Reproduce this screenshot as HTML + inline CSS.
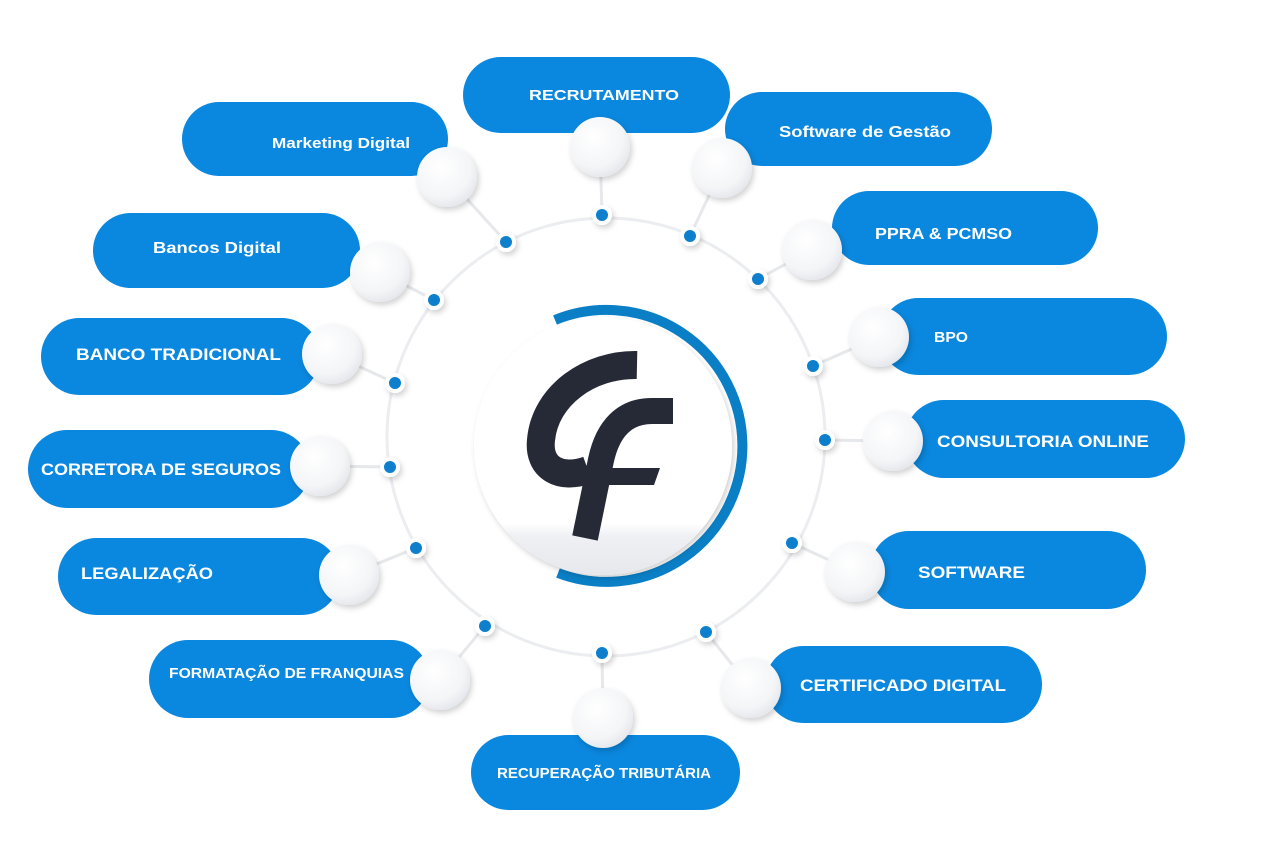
<!DOCTYPE html>
<html><head><meta charset="utf-8"><style>
html,body{margin:0;padding:0;background:#fff;}
svg{display:block}
text{font-family:"Liberation Sans",sans-serif;font-weight:bold;fill:#fff;}
</style></head><body>
<svg width="1267" height="854" viewBox="0 0 1267 854" xmlns="http://www.w3.org/2000/svg">
<defs>
<radialGradient id="ball" cx="0.4" cy="0.35" r="0.7">
<stop offset="0" stop-color="#ffffff"/><stop offset="0.7" stop-color="#f4f5f7"/><stop offset="1" stop-color="#e2e5ea"/>
</radialGradient>
<linearGradient id="ctr" x1="0" y1="0" x2="0" y2="1">
<stop offset="0.8" stop-color="#ffffff"/><stop offset="0.85" stop-color="#eef0f3"/><stop offset="1" stop-color="#e6e8ec"/>
</linearGradient>
<filter id="sh" x="-30%" y="-30%" width="160%" height="160%"><feDropShadow dx="2" dy="3" stdDeviation="3" flood-color="#000" flood-opacity="0.18"/></filter>
</defs>
<circle cx="606" cy="437" r="219" fill="none" stroke="#ebedf0" stroke-width="3"/>
<g stroke="#e6e8eb" stroke-width="3">
<line x1="602" y1="215" x2="600" y2="147"/>
<line x1="506" y1="242" x2="447" y2="177"/>
<line x1="690" y1="236" x2="722" y2="168"/>
<line x1="434" y1="300" x2="380" y2="272"/>
<line x1="758" y1="279" x2="812" y2="250"/>
<line x1="395" y1="383" x2="332" y2="354"/>
<line x1="813" y1="366" x2="879" y2="337"/>
<line x1="390" y1="467" x2="320" y2="466"/>
<line x1="825" y1="440" x2="893" y2="441"/>
<line x1="416" y1="548" x2="349" y2="575"/>
<line x1="792" y1="543" x2="855" y2="572"/>
<line x1="485" y1="626" x2="440" y2="680"/>
<line x1="706" y1="632" x2="751" y2="688"/>
<line x1="602" y1="653" x2="603" y2="718"/>
</g>
<g fill="#0a87de">
<rect x="463" y="57" width="267" height="76" rx="38"/>
<rect x="182" y="102" width="266" height="74" rx="37"/>
<rect x="725" y="92" width="267" height="74" rx="37"/>
<rect x="93" y="213" width="267" height="75" rx="37.5"/>
<rect x="832" y="191" width="266" height="74" rx="37"/>
<rect x="41" y="318" width="279" height="77" rx="38.5"/>
<rect x="880" y="298" width="287" height="77" rx="38.5"/>
<rect x="28" y="430" width="282" height="78" rx="39"/>
<rect x="905" y="400" width="280" height="78" rx="39"/>
<rect x="58" y="538" width="282" height="77" rx="38.5"/>
<rect x="870" y="531" width="276" height="78" rx="39"/>
<rect x="149" y="640" width="281" height="78" rx="39"/>
<rect x="765" y="646" width="277" height="77" rx="38.5"/>
<rect x="471" y="735" width="269" height="75" rx="37.5"/>
</g>
<g fill="url(#ball)" filter="url(#sh)">
<circle cx="600" cy="147" r="30"/><circle cx="447" cy="177" r="30"/><circle cx="722" cy="168" r="30"/>
<circle cx="380" cy="272" r="30"/><circle cx="812" cy="250" r="30"/><circle cx="332" cy="354" r="30"/>
<circle cx="879" cy="337" r="30"/><circle cx="320" cy="466" r="30"/><circle cx="893" cy="441" r="30"/>
<circle cx="349" cy="575" r="30"/><circle cx="855" cy="572" r="30"/><circle cx="440" cy="680" r="30"/>
<circle cx="751" cy="688" r="30"/><circle cx="603" cy="718" r="30"/>
</g>
<g fill="#0a7fcc" stroke="#fff" stroke-width="4" filter="url(#sh)">
<circle cx="602" cy="215" r="8"/><circle cx="506" cy="242" r="8"/><circle cx="690" cy="236" r="8"/>
<circle cx="434" cy="300" r="8"/><circle cx="758" cy="279" r="8"/><circle cx="395" cy="383" r="8"/>
<circle cx="813" cy="366" r="8"/><circle cx="390" cy="467" r="8"/><circle cx="825" cy="440" r="8"/>
<circle cx="416" cy="548" r="8"/><circle cx="792" cy="543" r="8"/><circle cx="485" cy="626" r="8"/>
<circle cx="706" cy="632" r="8"/><circle cx="602" cy="653" r="8"/>
</g>
<text x="529" y="100" font-size="15" textLength="150" lengthAdjust="spacingAndGlyphs">RECRUTAMENTO</text>
<text x="272" y="148" font-size="15" textLength="138" lengthAdjust="spacingAndGlyphs">Marketing Digital</text>
<text x="779" y="137" font-size="16" textLength="172" lengthAdjust="spacingAndGlyphs">Software de Gestão</text>
<text x="153" y="253" font-size="16" textLength="128" lengthAdjust="spacingAndGlyphs">Bancos Digital</text>
<text x="875" y="239" font-size="16" textLength="137" lengthAdjust="spacingAndGlyphs">PPRA &amp; PCMSO</text>
<text x="76" y="360" font-size="17" textLength="205" lengthAdjust="spacingAndGlyphs">BANCO TRADICIONAL</text>
<text x="934" y="342" font-size="15" textLength="34" lengthAdjust="spacingAndGlyphs">BPO</text>
<text x="41" y="475" font-size="17" textLength="240" lengthAdjust="spacingAndGlyphs">CORRETORA DE SEGUROS</text>
<text x="937" y="447" font-size="17" textLength="212" lengthAdjust="spacingAndGlyphs">CONSULTORIA ONLINE</text>
<text x="81" y="579" font-size="17" textLength="132" lengthAdjust="spacingAndGlyphs">LEGALIZAÇÃO</text>
<text x="918" y="578" font-size="17" textLength="107" lengthAdjust="spacingAndGlyphs">SOFTWARE</text>
<text x="169" y="678" font-size="14.5" textLength="235" lengthAdjust="spacingAndGlyphs">FORMATAÇÃO DE FRANQUIAS</text>
<text x="800" y="691" font-size="17" textLength="206" lengthAdjust="spacingAndGlyphs">CERTIFICADO DIGITAL</text>
<text x="497" y="778" font-size="14.5" textLength="214" lengthAdjust="spacingAndGlyphs">RECUPERAÇÃO TRIBUTÁRIA</text>
<path d="M555,320 A136,136 0 1 1 558,573" fill="none" stroke="#0a7fc6" stroke-width="10"/>
<circle cx="603" cy="446" r="129" fill="url(#ctr)" filter="url(#sh)"/>
<path d="M637,365 C590,364 545,395 541,440 C538,468 560,480 588,470" fill="none" stroke="#262a36" stroke-width="28"/>
<path d="M673,411 L652,411 C625,411 608,428 601,460 L585,538" fill="none" stroke="#262a36" stroke-width="26"/>
<polygon points="578,468 660,468 654,485 572,485" fill="#262a36"/>
</svg>
</body></html>
